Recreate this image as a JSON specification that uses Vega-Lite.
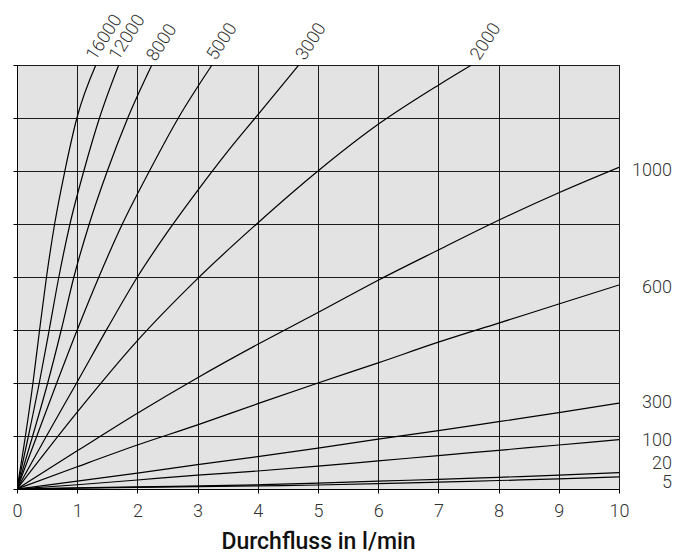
{
  "$schema": "https://vega.github.io/schema/vega-lite/v6.json",
  "width": 602,
  "height": 424,
  "autosize": {"type": "none"},
  "padding": {"left": 17, "top": 65, "right": 69, "bottom": 69},
  "background": "white",
  "config": {
    "view": {"stroke": "#111", "strokeWidth": 1, "fill": "#e3e3e3"},
    "font": "Roboto"
  },
  "datasets": {
    "curves": [
      {"series": "16000", "x": 0, "y": 0}, {"series": "16000", "x": 0.14, "y": 1}, {"series": "16000", "x": 0.265, "y": 2}, {"series": "16000", "x": 0.375, "y": 3}, {"series": "16000", "x": 0.49, "y": 4}, {"series": "16000", "x": 0.625, "y": 5}, {"series": "16000", "x": 0.795, "y": 6}, {"series": "16000", "x": 0.995, "y": 7}, {"series": "16000", "x": 1.31, "y": 8},
      {"series": "12000", "x": 0, "y": 0}, {"series": "12000", "x": 0.19, "y": 1}, {"series": "12000", "x": 0.37, "y": 2}, {"series": "12000", "x": 0.535, "y": 3}, {"series": "12000", "x": 0.695, "y": 4}, {"series": "12000", "x": 0.88, "y": 5}, {"series": "12000", "x": 1.11, "y": 6}, {"series": "12000", "x": 1.37, "y": 7}, {"series": "12000", "x": 1.69, "y": 8},
      {"series": "8000", "x": 0, "y": 0}, {"series": "8000", "x": 0.26, "y": 1}, {"series": "8000", "x": 0.51, "y": 2}, {"series": "8000", "x": 0.735, "y": 3}, {"series": "8000", "x": 0.945, "y": 4}, {"series": "8000", "x": 1.2, "y": 5}, {"series": "8000", "x": 1.5, "y": 6}, {"series": "8000", "x": 1.84, "y": 7}, {"series": "8000", "x": 2.24, "y": 8},
      {"series": "5000", "x": 0, "y": 0}, {"series": "5000", "x": 0.33, "y": 1}, {"series": "5000", "x": 0.66, "y": 2}, {"series": "5000", "x": 1.0, "y": 3}, {"series": "5000", "x": 1.36, "y": 4}, {"series": "5000", "x": 1.75, "y": 5}, {"series": "5000", "x": 2.2, "y": 6}, {"series": "5000", "x": 2.68, "y": 7}, {"series": "5000", "x": 3.24, "y": 8},
      {"series": "3000", "x": 0, "y": 0}, {"series": "3000", "x": 0.49, "y": 1}, {"series": "3000", "x": 1.0, "y": 2.02}, {"series": "3000", "x": 1.5, "y": 3.03}, {"series": "3000", "x": 2.0, "y": 4.0}, {"series": "3000", "x": 2.5, "y": 4.85}, {"series": "3000", "x": 3.0, "y": 5.63}, {"series": "3000", "x": 3.5, "y": 6.37}, {"series": "3000", "x": 4.0, "y": 7.06}, {"series": "3000", "x": 4.68, "y": 8},
      {"series": "2000", "x": 0, "y": 0}, {"series": "2000", "x": 1, "y": 1.45}, {"series": "2000", "x": 2, "y": 2.8}, {"series": "2000", "x": 3, "y": 3.97}, {"series": "2000", "x": 4, "y": 5.02}, {"series": "2000", "x": 5, "y": 6.0}, {"series": "2000", "x": 6, "y": 6.88}, {"series": "2000", "x": 7, "y": 7.62}, {"series": "2000", "x": 7.55, "y": 8},
      {"series": "1000", "x": 0, "y": 0}, {"series": "1000", "x": 1, "y": 0.72}, {"series": "1000", "x": 2, "y": 1.43}, {"series": "1000", "x": 3, "y": 2.1}, {"series": "1000", "x": 4, "y": 2.73}, {"series": "1000", "x": 5, "y": 3.33}, {"series": "1000", "x": 6, "y": 3.94}, {"series": "1000", "x": 7, "y": 4.51}, {"series": "1000", "x": 8, "y": 5.07}, {"series": "1000", "x": 9, "y": 5.59}, {"series": "1000", "x": 10, "y": 6.07},
      {"series": "600", "x": 0, "y": 0}, {"series": "600", "x": 1, "y": 0.42}, {"series": "600", "x": 2, "y": 0.83}, {"series": "600", "x": 3, "y": 1.21}, {"series": "600", "x": 4, "y": 1.61}, {"series": "600", "x": 5, "y": 2.0}, {"series": "600", "x": 6, "y": 2.38}, {"series": "600", "x": 7, "y": 2.77}, {"series": "600", "x": 8, "y": 3.13}, {"series": "600", "x": 9, "y": 3.49}, {"series": "600", "x": 10, "y": 3.85},
      {"series": "300", "x": 0, "y": 0}, {"series": "300", "x": 1, "y": 0.15}, {"series": "300", "x": 2, "y": 0.3}, {"series": "300", "x": 3, "y": 0.46}, {"series": "300", "x": 4, "y": 0.61}, {"series": "300", "x": 5, "y": 0.77}, {"series": "300", "x": 6, "y": 0.94}, {"series": "300", "x": 7, "y": 1.1}, {"series": "300", "x": 8, "y": 1.27}, {"series": "300", "x": 9, "y": 1.44}, {"series": "300", "x": 10, "y": 1.62},
      {"series": "100", "x": 0, "y": 0}, {"series": "100", "x": 1, "y": 0.08}, {"series": "100", "x": 2, "y": 0.17}, {"series": "100", "x": 3, "y": 0.26}, {"series": "100", "x": 4, "y": 0.34}, {"series": "100", "x": 5, "y": 0.43}, {"series": "100", "x": 6, "y": 0.53}, {"series": "100", "x": 7, "y": 0.63}, {"series": "100", "x": 8, "y": 0.73}, {"series": "100", "x": 9, "y": 0.83}, {"series": "100", "x": 10, "y": 0.93},
      {"series": "20", "x": 0, "y": 0}, {"series": "20", "x": 2, "y": 0.04}, {"series": "20", "x": 4, "y": 0.08}, {"series": "20", "x": 5, "y": 0.11}, {"series": "20", "x": 6, "y": 0.15}, {"series": "20", "x": 7, "y": 0.18}, {"series": "20", "x": 8, "y": 0.22}, {"series": "20", "x": 9, "y": 0.26}, {"series": "20", "x": 10, "y": 0.31},
      {"series": "5", "x": 0, "y": 0}, {"series": "5", "x": 2, "y": 0.03}, {"series": "5", "x": 4, "y": 0.06}, {"series": "5", "x": 5, "y": 0.075}, {"series": "5", "x": 6, "y": 0.1}, {"series": "5", "x": 7, "y": 0.13}, {"series": "5", "x": 8, "y": 0.16}, {"series": "5", "x": 9, "y": 0.19}, {"series": "5", "x": 10, "y": 0.23}
    ],
    "toplabels": [
      {"label": "16000", "x": 1.3, "y": 8.07},
      {"label": "12000", "x": 1.68, "y": 8.07},
      {"label": "8000", "x": 2.3, "y": 8.05},
      {"label": "5000", "x": 3.3, "y": 8.07},
      {"label": "3000", "x": 4.78, "y": 8.07},
      {"label": "2000", "x": 7.68, "y": 8.07}
    ],
    "rightlabels": [
      {"label": "1000", "x": 10.88, "y": 6.0},
      {"label": "600", "x": 10.88, "y": 3.8},
      {"label": "300", "x": 10.88, "y": 1.62},
      {"label": "100", "x": 10.88, "y": 0.91},
      {"label": "20", "x": 10.88, "y": 0.47},
      {"label": "5", "x": 10.88, "y": 0.12}
    ]
  },
  "layer": [
    {
      "data": {"name": "curves"},
      "mark": {"type": "line", "color": "#000", "strokeWidth": 1.2, "interpolate": "monotone", "clip": true},
      "encoding": {
        "x": {
          "field": "x", "type": "quantitative",
          "scale": {"domain": [0, 10], "nice": false},
          "axis": {
            "values": [0, 0.5, 1, 1.5, 2, 2.5, 3, 3.5, 4, 4.5, 5, 5.5, 6, 6.5, 7, 7.5, 8, 8.5, 9, 9.5, 10],
            "labelExpr": "datum.value % 1 === 0 ? format(datum.value, 'd') : ''",
            "grid": true,
            "gridColor": "#1a1a1a",
            "gridWidth": 1,
            "gridOpacity": {"condition": {"test": "datum.value % 1 !== 0", "value": 0}, "value": 1},
            "domainColor": "#000",
            "tickColor": "#000",
            "tickSize": 4,
            "labelFont": "Roboto",
            "labelFontSize": 18,
            "labelFontWeight": 300,
            "labelColor": "#333",
            "labelPadding": 9,
            "labelFlush": false,
            "title": "Durchfluss in l/min",
            "titleFont": "Roboto",
            "titleFontSize": 23,
            "titleFontWeight": 500,
            "titleColor": "#111",
            "titlePadding": 10
          }
        },
        "y": {
          "field": "y", "type": "quantitative",
          "scale": {"domain": [0, 8], "nice": false},
          "axis": {
            "values": [0, 0.5, 1, 1.5, 2, 2.5, 3, 3.5, 4, 4.5, 5, 5.5, 6, 6.5, 7, 7.5, 8],
            "labels": false,
            "grid": true,
            "gridColor": "#1a1a1a",
            "gridWidth": 1,
            "gridOpacity": {"condition": {"test": "datum.value % 1 !== 0", "value": 0}, "value": 1},
            "domainColor": "#000",
            "tickColor": "#000",
            "tickSize": 4,
            "title": null
          }
        },
        "detail": {"field": "series", "type": "nominal"}
      }
    },
    {
      "data": {"name": "toplabels"},
      "mark": {"type": "text", "align": "left", "baseline": "alphabetic", "angle": 303, "font": "Roboto", "fontSize": 18, "fontWeight": 300, "color": "#333"},
      "encoding": {
        "x": {"field": "x", "type": "quantitative"},
        "y": {"field": "y", "type": "quantitative"},
        "text": {"field": "label"}
      }
    },
    {
      "data": {"name": "rightlabels"},
      "mark": {"type": "text", "align": "right", "baseline": "middle", "font": "Roboto", "fontSize": 18, "fontWeight": 300, "color": "#333"},
      "encoding": {
        "x": {"field": "x", "type": "quantitative"},
        "y": {"field": "y", "type": "quantitative"},
        "text": {"field": "label"}
      }
    }
  ]
}
